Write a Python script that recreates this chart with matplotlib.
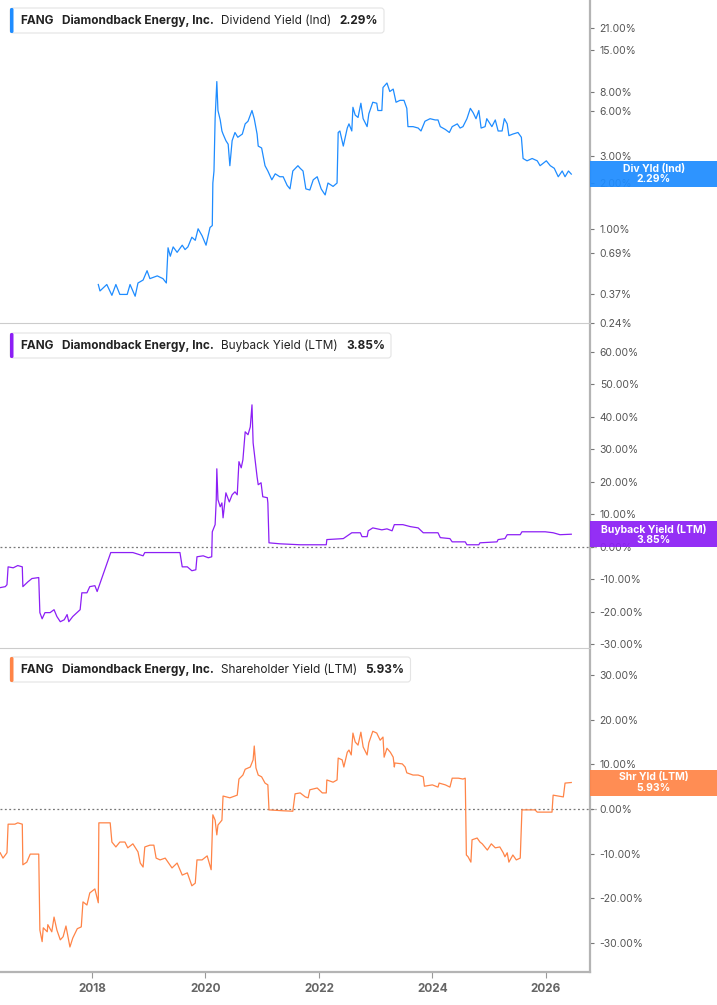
import matplotlib.pyplot as plt
from matplotlib.patches import Rectangle, FancyBboxPatch
from matplotlib.ticker import NullLocator
from matplotlib.transforms import Affine2D

# ---- data (decimal years, percent) ----
div_t = [2018.11, 2018.14, 2018.26, 2018.35, 2018.42, 2018.49, 2018.62, 2018.67, 2018.76, 2018.81, 2018.90, 2018.97,
         2019.02, 2019.15, 2019.25, 2019.31, 2019.34, 2019.38, 2019.43, 2019.50, 2019.59, 2019.64, 2019.69, 2019.76, 2019.82, 2019.87, 2019.94,
         2020.01, 2020.08, 2020.12, 2020.13, 2020.15, 2020.17, 2020.20, 2020.22, 2020.26, 2020.29, 2020.31, 2020.36, 2020.40, 2020.43, 2020.47,
         2020.52, 2020.57, 2020.65, 2020.70, 2020.75, 2020.82, 2020.86, 2020.91, 2020.93, 2020.99,
         2021.05, 2021.10, 2021.17, 2021.23, 2021.31, 2021.37, 2021.44, 2021.49, 2021.54, 2021.63, 2021.67, 2021.72, 2021.77, 2021.84, 2021.90, 2021.97,
         2022.04, 2022.11, 2022.16, 2022.25, 2022.32, 2022.34, 2022.37, 2022.43, 2022.50, 2022.53, 2022.58, 2022.60, 2022.64, 2022.69, 2022.74,
         2022.78, 2022.85, 2022.88, 2022.95,
         2023.02, 2023.04, 2023.11, 2023.13, 2023.20, 2023.25, 2023.31, 2023.36, 2023.43, 2023.50, 2023.55, 2023.57, 2023.66, 2023.75, 2023.80,
         2023.87, 2023.96,
         2024.05, 2024.10, 2024.14, 2024.23, 2024.30, 2024.35, 2024.44, 2024.49, 2024.54, 2024.61, 2024.67, 2024.72, 2024.77, 2024.82, 2024.86,
         2024.93, 2024.96,
         2025.05, 2025.11, 2025.16, 2025.23, 2025.27, 2025.32, 2025.35, 2025.42, 2025.51, 2025.57, 2025.60, 2025.67, 2025.76, 2025.85, 2025.90,
         2026.01, 2026.08, 2026.15, 2026.22, 2026.29, 2026.34, 2026.40, 2026.45]
div_v = [0.43, 0.39, 0.43, 0.365, 0.43, 0.37, 0.37, 0.43, 0.36, 0.44, 0.46, 0.53,
         0.47, 0.49, 0.47, 0.44, 0.75, 0.66, 0.76, 0.70, 0.78, 0.73, 0.76, 0.88, 0.84, 1.00, 0.90,
         0.78, 1.02, 1.05, 2.0, 2.4, 5.3, 9.3, 6.0, 5.2, 4.4, 4.2, 3.8, 3.6, 2.6, 3.8,
         4.3, 4.0, 4.2, 4.9, 5.1, 6.0, 5.3, 4.2, 3.5, 3.4,
         2.6, 2.4, 2.1, 2.3, 2.2, 2.2, 1.93, 1.83, 2.4, 2.6, 2.5, 2.4, 1.83, 1.80, 2.1, 2.2,
         1.83, 1.67, 2.0, 1.9, 2.0, 4.3, 4.4, 3.5, 4.6, 4.9, 4.4, 6.3, 5.6, 5.4, 6.7,
         5.3, 4.7, 5.7, 6.8,
         6.7, 6.0, 6.0, 8.5, 9.1, 8.0, 8.3, 6.8, 7.0, 7.0, 6.2, 4.7, 4.7, 4.6, 4.4,
         5.1, 5.3,
         5.2, 5.2, 4.7, 4.5, 4.3, 4.7, 4.9, 4.6, 4.7, 5.3, 6.2, 5.8, 5.3, 6.0, 4.6,
         4.7, 5.3,
         4.7, 5.2, 4.4, 4.4, 5.3, 4.9, 4.1, 4.2, 4.3, 4.0, 2.9, 2.8, 2.9, 2.8, 2.6,
         2.8, 2.6, 2.5, 2.2, 2.4, 2.2, 2.4, 2.29]

buy_t = [2016.38, 2016.47, 2016.50, 2016.52, 2016.61, 2016.69, 2016.77, 2016.78, 2016.87, 2016.94,
         2017.06, 2017.08, 2017.12, 2017.17, 2017.26, 2017.33, 2017.38, 2017.44, 2017.51, 2017.56,
         2017.59, 2017.66, 2017.79, 2017.82, 2017.91, 2017.96, 2018.05, 2018.09, 2018.33, 2018.49,
         2018.72, 2018.90, 2018.93, 2019.55, 2019.59, 2019.68, 2019.76, 2019.83, 2019.85, 2019.96,
         2020.05, 2020.11, 2020.12, 2020.17, 2020.19, 2020.20, 2020.22, 2020.26, 2020.29, 2020.31,
         2020.36, 2020.42, 2020.47, 2020.52, 2020.56, 2020.59, 2020.63, 2020.66, 2020.70, 2020.75,
         2020.79, 2020.82, 2020.84, 2020.91, 2020.93, 2020.98, 2021.01, 2021.09, 2021.10, 2021.12,
         2021.31, 2021.67, 2022.13, 2022.14, 2022.43, 2022.58, 2022.73, 2022.76, 2022.85, 2022.87,
         2022.95, 2023.11, 2023.20, 2023.29, 2023.33, 2023.48, 2023.61, 2023.75, 2023.84, 2024.10,
         2024.14, 2024.31, 2024.35, 2024.58, 2024.61, 2024.82, 2024.84, 2025.14, 2025.16, 2025.28,
         2025.32, 2025.55, 2025.58, 2025.78, 2025.99, 2026.13, 2026.25, 2026.45]
buy_v = [-12.6, -12.3, -11.7, -6.2, -6.5, -5.8, -6.2, -12.3, -10.8, -9.8,
         -9.5, -20.3, -22.2, -20.3, -20.3, -19.4, -21.5, -23.1, -22.5, -20.9,
         -23.1, -21.5, -19.4, -14.2, -14.2, -12.3, -12.0, -13.8, -1.8, -1.8,
         -1.8, -2.8, -1.8, -1.8, -6.2, -6.2, -7.4, -7.1, -3.1, -2.8,
         -3.4, -3.1, 4.6, 6.8, 14.5, 24.0, 14.5, 12.3, 13.5, 8.9,
         16.6, 13.8, 16.0, 16.9, 16.0, 26.2, 24.3, 26.8, 35.4, 34.5,
         36.9, 43.7, 32.0, 21.5, 19.1, 19.7, 15.4, 15.1, 13.5, 1.2,
         0.9, 0.6, 0.6, 2.2, 2.5, 4.3, 4.3, 3.1, 3.1, 4.9,
         5.8, 5.2, 5.5, 4.9, 6.8, 6.8, 6.2, 5.8, 4.3, 4.3,
         2.8, 2.5, 1.5, 1.5, 0.6, 0.6, 1.2, 1.5, 2.2, 2.5,
         3.7, 3.7, 4.6, 4.6, 4.6, 4.3, 3.7, 3.85]

shr_t = [2016.38, 2016.43, 2016.50, 2016.52, 2016.64, 2016.69, 2016.77, 2016.78, 2016.85, 2016.91,
         2017.06, 2017.08, 2017.12, 2017.14, 2017.21, 2017.22, 2017.29, 2017.33, 2017.38, 2017.44,
         2017.49, 2017.54, 2017.61, 2017.66, 2017.74, 2017.81, 2017.84, 2017.91, 2017.96, 2018.05,
         2018.11, 2018.12, 2018.19, 2018.32, 2018.35, 2018.42, 2018.49, 2018.58, 2018.63, 2018.72,
         2018.81, 2018.85, 2018.90, 2018.93, 2019.02, 2019.09, 2019.13, 2019.20, 2019.29, 2019.34,
         2019.41, 2019.50, 2019.59, 2019.68, 2019.76, 2019.82, 2019.85, 2019.94, 2020.03, 2020.10,
         2020.13, 2020.17, 2020.20, 2020.22, 2020.29, 2020.31, 2020.43, 2020.56, 2020.59, 2020.66,
         2020.70, 2020.79, 2020.84, 2020.86, 2020.89, 2020.93, 2020.99, 2021.05, 2021.10, 2021.12,
         2021.37, 2021.54, 2021.58, 2021.67, 2021.76, 2021.81, 2021.84, 2021.97, 2022.06, 2022.13,
         2022.14, 2022.25, 2022.32, 2022.34, 2022.41, 2022.44, 2022.50, 2022.53, 2022.57, 2022.60,
         2022.64, 2022.69, 2022.74, 2022.78, 2022.85, 2022.88, 2022.95, 2023.02, 2023.08, 2023.13,
         2023.15, 2023.20, 2023.26, 2023.31, 2023.33, 2023.34, 2023.47, 2023.52, 2023.55, 2023.66,
         2023.75, 2023.84, 2023.86, 2024.00, 2024.10, 2024.12, 2024.23, 2024.31, 2024.35, 2024.46,
         2024.54, 2024.58, 2024.60, 2024.63, 2024.68, 2024.70, 2024.79, 2024.84, 2024.88, 2024.97,
         2025.04, 2025.11, 2025.19, 2025.25, 2025.28, 2025.32, 2025.35, 2025.42, 2025.48, 2025.55,
         2025.58, 2025.81, 2025.85, 2026.11, 2026.13, 2026.22, 2026.31, 2026.34, 2026.45]
shr_v = [-9.8, -11.0, -9.8, -3.4, -3.4, -3.1, -3.4, -12.5, -11.9, -10.1,
         -10.1, -27.1, -29.7, -26.6, -27.5, -25.9, -27.5, -24.2, -27.1, -29.3,
         -28.6, -26.2, -30.9, -28.9, -26.8, -26.4, -20.8, -21.5, -18.8, -17.9,
         -21.0, -3.1, -3.1, -3.1, -7.4, -8.5, -7.4, -7.4, -8.7, -7.8,
         -9.6, -12.1, -13.0, -8.5, -8.1, -8.1, -11.0, -11.4, -11.0, -11.9,
         -13.2, -12.1, -14.8, -14.3, -17.2, -16.6, -11.4, -11.4, -10.5, -13.6,
         -1.3, -2.5, -5.8, -3.6, -2.5, 2.9, 2.5, 3.1, 6.7, 7.6,
         8.9, 9.4, 11.0, 14.1, 9.2, 7.6, 7.2, 5.8, 5.4, -0.2,
         -0.4, -0.5, 3.4, 3.6, 2.7, 2.5, 4.3, 4.7, 3.6, 3.6,
         6.5, 6.0, 6.5, 11.4, 11.0, 9.4, 12.7, 13.2, 12.1, 17.0,
         15.0, 14.3, 17.2, 13.9, 12.1, 14.8, 17.4, 17.0, 15.4, 16.1,
         11.6, 13.6, 12.7, 11.6, 9.4, 10.3, 10.1, 9.4, 8.1, 7.6,
         7.6, 7.2, 5.1, 5.4, 4.9, 5.8, 5.4, 4.9, 6.9, 6.9,
         6.7, 6.9, -10.3, -10.7, -11.9, -6.9, -6.5, -7.4, -7.8, -9.2,
         -7.8, -8.7, -8.5, -9.8, -10.7, -9.8, -11.9, -10.3, -11.4, -11.0,
         -0.2, -0.2, -0.7, -0.7, 3.1, 2.9, 2.7, 5.8, 5.93]

div_ticks = [21, 15, 8, 6, 3, 2, 1, 0.69, 0.37, 0.24]
buy_ticks = [60, 50, 40, 30, 20, 10, 0, -10, -20, -30]
shr_ticks = [30, 20, 10, 0, -10, -20, -30]
year_ticks = [2018, 2020, 2022, 2024, 2026]

BLUE, PURPLE, ORANGE = '#1e8cff', '#8c1ff5', '#ff8447'

plt.rcParams['font.family'] = ['Inter', 'DejaVu Sans']

W, H = 717, 1005
fig = plt.figure(figsize=(W / 100, H / 100), dpi=100)
pix = Affine2D().scale(1 / W, -1 / H).translate(0, 1) + fig.transFigure  # pixel coords, origin top-left


def panel(top, bottom):
    return fig.add_axes([0, 1 - bottom / H, 590 / W, (bottom - top) / H])


ax1 = panel(0, 323)
ax2 = panel(325, 648)
ax3 = panel(650, 972)

ax1.plot(div_t, div_v, color=BLUE, lw=0.9)
ax1.set_yscale('log')
ax1.set_ylim(0.24, 32)
ax1.set_yticks(div_ticks)
ax1.set_yticklabels([f'{v:.2f}%' for v in div_ticks])
ax1.yaxis.set_minor_locator(NullLocator())

ax2.plot(buy_t, buy_v, color=PURPLE, lw=0.9)
ax2.set_ylim(-31.2, 68.3)
ax2.set_yticks(buy_ticks)
ax2.set_yticklabels([f'{v:.2f}%' for v in buy_ticks])

ax3.plot(shr_t, shr_v, color=ORANGE, lw=0.9)
ax3.set_ylim(-36.5, 35.6)
ax3.set_yticks(shr_ticks)
ax3.set_yticklabels([f'{v:.2f}%' for v in shr_ticks])

for ax in (ax2, ax3):
    ax.axhline(0, xmax=1.01, color='#777777', ls=(0, (1.5, 2)), lw=0.9, zorder=1, clip_on=False)

for ax in (ax1, ax2, ax3):
    ax.set_xlim(2016.377, 2026.78)
    ax.set_facecolor('none')
    ax.yaxis.tick_right()
    ax.tick_params(axis='y', direction='out', length=3, width=0.8, color='#777777',
                   labelcolor='#555555', labelsize=7.5, pad=4)
    for s in ('top', 'left'):
        ax.spines[s].set_visible(False)
    ax.spines['right'].set_color('#b4b4b4')
    ax.spines['right'].set_linewidth(1.6)
    ax.spines['bottom'].set_color('#cccccc')
    ax.spines['bottom'].set_linewidth(0.8)

for ax in (ax1, ax2):
    ax.set_xticks([])
ax3.set_xticks(year_ticks)
ax3.set_xticklabels([str(y) for y in year_ticks])
ax3.tick_params(axis='x', length=4, width=0.8, color='#999999', labelcolor='#666666',
                labelsize=8.5, pad=4)
for lab in ax3.get_xticklabels():
    lab.set_fontweight('bold')
ax3.spines['bottom'].set_color('#b4b4b4')
ax3.spines['bottom'].set_linewidth(1.6)

r = fig.canvas.get_renderer()


def title_box(top, color, parts):
    yc = top + 13
    x = 20
    for txt, bold in parts:
        t = fig.text(x, yc, txt, transform=pix, fontsize=8.5, color='#222222',
                     fontweight='bold' if bold else 'normal', va='center', ha='left', zorder=5)
        x = t.get_window_extent(renderer=r).x1 + 8
    right = x - 2
    fig.add_artist(FancyBboxPatch((10, top), right - 10, 25, boxstyle='round,pad=0,rounding_size=3',
                                  transform=pix, fc='white', ec='#e4e4e4', lw=0.8, zorder=2))
    fig.add_artist(FancyBboxPatch((10, top), 3.5, 25, boxstyle='round,pad=0,rounding_size=1.5',
                                  transform=pix, fc=color, ec='none', zorder=3))


title_box(8, BLUE, [('FANG', True), ('Diamondback Energy, Inc.', True),
                    ('Dividend Yield (Ind)', False), ('2.29%', True)])
title_box(333, PURPLE, [('FANG', True), ('Diamondback Energy, Inc.', True),
                        ('Buyback Yield (LTM)', False), ('3.85%', True)])
title_box(657, ORANGE, [('FANG', True), ('Diamondback Energy, Inc.', True),
                        ('Shareholder Yield (LTM)', False), ('5.93%', True)])


def last_label(ax, value, color, text):
    yd = ax.transData.transform((2020, value))[1]
    yp = H - yd  # pixel row from top
    fig.add_artist(Rectangle((590, yp - 13), 127, 26, transform=pix, fc=color, ec='none',
                             alpha=0.93, zorder=4))
    fig.text(654, yp, text, transform=pix, ha='center', va='center', color='white',
             fontsize=7.5, fontweight='bold', linespacing=1.05, zorder=5)


last_label(ax1, div_v[-1], BLUE, f'Div Yld (Ind)\n{div_v[-1]:.2f}%')
last_label(ax2, buy_v[-1], PURPLE, f'Buyback Yield (LTM)\n{buy_v[-1]:.2f}%')
last_label(ax3, shr_v[-1], ORANGE, f'Shr Yld (LTM)\n{shr_v[-1]:.2f}%')

fig.savefig('out.png', dpi=100)
